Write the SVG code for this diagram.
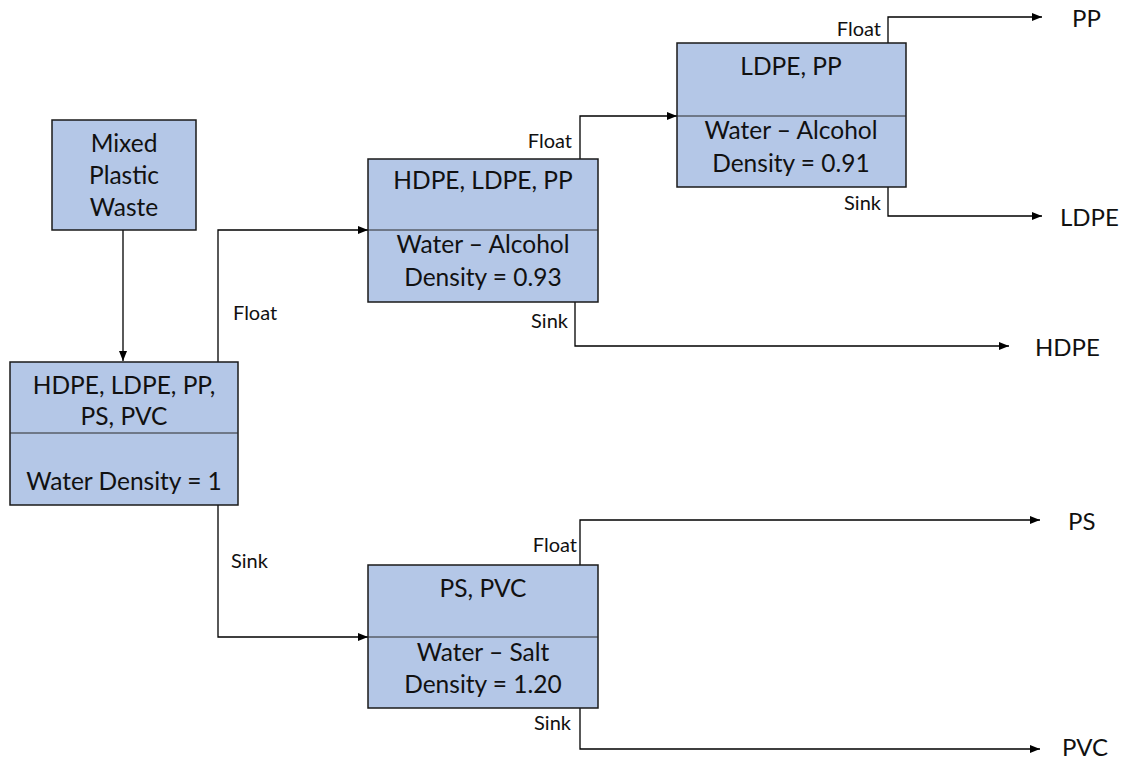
<svg xmlns="http://www.w3.org/2000/svg" width="1133" height="761" viewBox="0 0 1133 761">
<defs>
<marker id="ah" markerWidth="10" markerHeight="8" refX="10" refY="4" orient="auto" markerUnits="userSpaceOnUse">
<path d="M0,0 L10,4 L0,8 Z" fill="#000"/>
</marker>
<style>
.box{fill:#B4C7E7;stroke:#1a1a1a;stroke-width:1.5}
.div{stroke:#2a2a2a;stroke-width:1}
.t{font-family:Lato,"Liberation Sans",sans-serif;font-size:24.5px;fill:#111;text-anchor:middle}
.o{font-family:Lato,"Liberation Sans",sans-serif;font-size:24px;fill:#111}
.l{font-family:Lato,"Liberation Sans",sans-serif;font-size:20px;fill:#111}
.le{text-anchor:end}
.c{fill:none;stroke:#000;stroke-width:1.3}
</style>
</defs>
<rect width="1133" height="761" fill="#fff"/>
<g id="connectors">
<path class="c" d="M123,230 V361" marker-end="url(#ah)"/>
<path class="c" d="M218,362 V230 H368" marker-end="url(#ah)"/>
<path class="c" d="M218,505 V637 H368" marker-end="url(#ah)"/>
<path class="c" d="M580,159 V116 H677" marker-end="url(#ah)"/>
<path class="c" d="M575,302 V346 H1009" marker-end="url(#ah)"/>
<path class="c" d="M888,43 V17 H1042" marker-end="url(#ah)"/>
<path class="c" d="M888,187 V216 H1042" marker-end="url(#ah)"/>
<path class="c" d="M580,565 V520 H1040" marker-end="url(#ah)"/>
<path class="c" d="M580,708 V749 H1040" marker-end="url(#ah)"/>
<text class="l" x="233" y="320">Float</text>
<text class="l" x="231" y="568">Sink</text>
<text class="l le" x="572" y="148">Float</text>
<text class="l le" x="568" y="328">Sink</text>
<text class="l le" x="881" y="36">Float</text>
<text class="l le" x="881" y="210">Sink</text>
<text class="l le" x="577" y="552">Float</text>
<text class="l le" x="571" y="730">Sink</text>
</g>
<g id="mixed">
<rect class="box" x="52" y="120" width="144" height="110"/>
<text class="t" x="124" y="152">Mixed</text>
<text class="t" x="124" y="184">Plastic</text>
<text class="t" x="124" y="216">Waste</text>
</g>
<g id="main">
<rect class="box" x="10" y="362" width="228" height="143"/>
<line class="div" x1="10" y1="433" x2="238" y2="433"/>
<text class="t" x="124" y="394">HDPE, LDPE, PP,</text>
<text class="t" x="124" y="425">PS, PVC</text>
<text class="t" x="124" y="490">Water Density = 1</text>
</g>
<g id="hdpe-ldpe-pp">
<rect class="box" x="368" y="159" width="230" height="143"/>
<line class="div" x1="368" y1="230" x2="598" y2="230"/>
<text class="t" x="483" y="189">HDPE, LDPE, PP</text>
<text class="t" x="483" y="253">Water – Alcohol</text>
<text class="t" x="483" y="286">Density = 0.93</text>
</g>
<g id="ldpe-pp">
<rect class="box" x="677" y="43" width="229" height="144"/>
<line class="div" x1="677" y1="116" x2="906" y2="116"/>
<text class="t" x="791" y="75">LDPE, PP</text>
<text class="t" x="791" y="139">Water – Alcohol</text>
<text class="t" x="791" y="172">Density = 0.91</text>
</g>
<g id="ps-pvc">
<rect class="box" x="368" y="565" width="230" height="143"/>
<line class="div" x1="368" y1="637" x2="598" y2="637"/>
<text class="t" x="483" y="597">PS, PVC</text>
<text class="t" x="483" y="661">Water – Salt</text>
<text class="t" x="483" y="693">Density = 1.20</text>
</g>
<g id="outputs">
<text class="o" x="1072" y="27">PP</text>
<text class="o" x="1060" y="226">LDPE</text>
<text class="o" x="1035" y="356">HDPE</text>
<text class="o" x="1068" y="530">PS</text>
<text class="o" x="1062" y="756">PVC</text>
</g>
</svg>
